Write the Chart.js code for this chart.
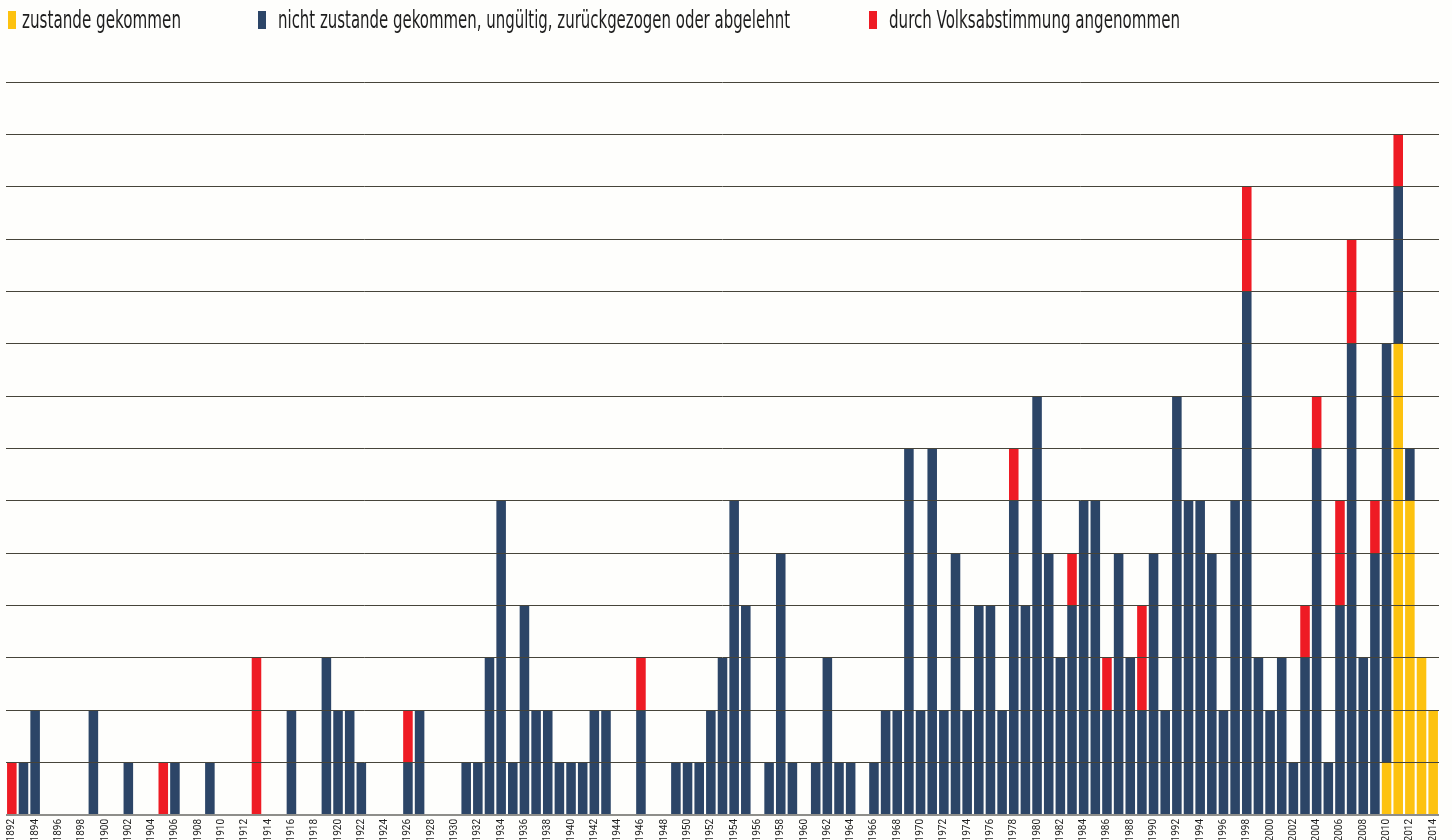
<!DOCTYPE html>
<html>
<head>
<meta charset="utf-8">
<script src="https://cdn.jsdelivr.net/npm/chart.js@4.4.1/dist/chart.umd.min.js"></script>
<style>
html,body{margin:0;padding:0;width:1452px;height:840px;overflow:hidden;background:#fefefc;}
#wrap{position:absolute;left:0;top:0;width:1452px;height:840px;}
.mk{position:absolute;top:11px;width:8px;height:18px;}
.tx{position:absolute;top:5px;font-family:"Liberation Sans Narrow","DejaVu Sans Condensed","Roboto Condensed",Roboto,sans-serif;font-size:24px;line-height:30px;color:#1e1e1e;white-space:nowrap;transform-origin:0 50%;}
</style>
</head>
<body>
<div id="wrap"><canvas id="c" width="1452" height="840"></canvas></div>
<div id="legend"></div>
<script>
// Categories (years)
const years = [1892,1893,1894,1895,1896,1897,1898,1899,1900,1901,
1902,1903,1904,1905,1906,1907,1908,1909,1910,1911,
1912,1913,1914,1915,1916,1917,1918,1919,1920,1921,
1922,1923,1924,1925,1926,1927,1928,1929,1930,1931,
1932,1933,1934,1935,1936,1937,1938,1939,1940,1941,
1942,1943,1944,1945,1946,1947,1948,1949,1950,1951,
1952,1953,1954,1955,1956,1957,1958,1959,1960,1961,
1962,1963,1964,1965,1966,1967,1968,1969,1970,1971,
1972,1973,1974,1975,1976,1977,1978,1979,1980,1981,
1982,1983,1984,1985,1986,1987,1988,1989,1990,1991,
1992,1993,1994,1995,1996,1997,1998,1999,2000,2001,
2002,2003,2004,2005,2006,2007,2008,2009,2010,2011,
2012,2013,2014];

// Tick labels (every second year)
const tickLabels = ["1892","1894","1896","1898","1900","1902","1904","1906","1908","1910",
"1912","1914","1916","1918","1920","1922","1924","1926","1928","1930",
"1932","1934","1936","1938","1940","1942","1944","1946","1948","1950",
"1952","1954","1956","1958","1960","1962","1964","1966","1968","1970",
"1972","1974","1976","1978","1980","1982","1984","1986","1988","1990",
"1992","1994","1996","1998","2000","2002","2004","2006","2008","2010",
"2012","2014"];

// zustande gekommen
const zustande = [0,0,0,0,0,0,0,0,0,0,
0,0,0,0,0,0,0,0,0,0,
0,0,0,0,0,0,0,0,0,0,
0,0,0,0,0,0,0,0,0,0,
0,0,0,0,0,0,0,0,0,0,
0,0,0,0,0,0,0,0,0,0,
0,0,0,0,0,0,0,0,0,0,
0,0,0,0,0,0,0,0,0,0,
0,0,0,0,0,0,0,0,0,0,
0,0,0,0,0,0,0,0,0,0,
0,0,0,0,0,0,0,0,0,0,
0,0,0,0,0,0,0,0,1,9,
6,3,2];

// nicht zustande gekommen, ungültig, zurückgezogen oder abgelehnt
const nichtZustande = [0,1,2,0,0,0,0,2,0,0,
1,0,0,0,1,0,0,1,0,0,
0,0,0,0,2,0,0,3,2,2,
1,0,0,0,1,2,0,0,0,1,
1,3,6,1,4,2,2,1,1,1,
2,2,0,0,2,0,0,1,1,1,
2,3,6,4,0,1,5,1,0,1,
3,1,1,0,1,2,2,7,2,7,
2,5,2,4,4,2,6,4,8,5,
3,4,6,6,2,5,3,2,5,2,
8,6,6,5,2,6,10,3,2,3,
1,3,7,1,4,9,3,5,8,3,
1,0,0];

// durch Volksabstimmung angenommen
const angenommen = [1,0,0,0,0,0,0,0,0,0,
0,0,0,1,0,0,0,0,0,0,
0,3,0,0,0,0,0,0,0,0,
0,0,0,0,1,0,0,0,0,0,
0,0,0,0,0,0,0,0,0,0,
0,0,0,0,1,0,0,0,0,0,
0,0,0,0,0,0,0,0,0,0,
0,0,0,0,0,0,0,0,0,0,
0,0,0,0,0,0,1,0,0,0,
0,1,0,0,1,0,0,2,0,0,
0,0,0,0,0,0,2,0,0,0,
0,1,1,0,2,2,0,1,0,1,
0,0,0];

const seriesNames = ["zustande gekommen","nicht zustande gekommen, ungültig, zurückgezogen oder abgelehnt","durch Volksabstimmung angenommen"];
const colors = ["#fdc20f","#2c4567","#ee1b24"];

// HTML legend
const legendPos = [{m:8,t:22,w:159},{m:258,t:278,w:512},{m:869,t:889,w:291}];
const lg = document.getElementById('legend');
seriesNames.forEach((n,i)=>{
  const m=document.createElement('div'); m.className='mk'; m.style.left=legendPos[i].m+'px'; m.style.background=colors[i]; lg.appendChild(m);
  const t=document.createElement('div'); t.className='tx'; t.style.left=legendPos[i].t+'px'; t.textContent=n; lg.appendChild(t);
  const w=t.getBoundingClientRect().width; if(w>0){ t.style.transform='scaleX('+(legendPos[i].w/w)+')'; }
});

const tickFont = {family:'Roboto, "Liberation Sans", sans-serif', size:10};

new Chart(document.getElementById('c'), {
  type:'bar',
  data:{
    labels: years.map(String),
    datasets:[
      {label:seriesNames[0], data:zustande, backgroundColor:colors[0], stack:'s'},
      {label:seriesNames[1], data:nichtZustande, backgroundColor:colors[1], stack:'s'},
      {label:seriesNames[2], data:angenommen, backgroundColor:colors[2], stack:'s'}
    ]
  },
  options:{
    responsive:false, animation:false, devicePixelRatio:1,
    layout:{padding:{top:82,left:6,right:13,bottom:0}},
    datasets:{bar:{categoryPercentage:1, barPercentage:0.82, borderWidth:0}},
    plugins:{legend:{display:false}, tooltip:{enabled:false}},
    scales:{
      x:{
        stacked:true,
        grid:{display:false, drawTicks:false},
        border:{display:false},
        ticks:{
          autoSkip:false, minRotation:90, maxRotation:90, padding:4,
          color:'#222', font:tickFont,
          callback:function(v,idx){ const s=String(years[idx]); return tickLabels.indexOf(s)>=0 ? s : ''; }
        },
        afterFit:function(s){ s.height = 25; }
      },
      y:{
        stacked:true, min:0, max:14,
        ticks:{display:false, stepSize:1},
        border:{display:false},
        grid:{
          z:1, drawTicks:false,
          color:function(c){ return c.tick && c.tick.value===0 ? '#8e8e8a' : '#46443a'; },
          lineWidth:function(c){ return c.tick && c.tick.value===0 ? 2 : 1; }
        },
        afterFit:function(s){ s.width = 0; }
      }
    }
  }
});
</script>
</body>
</html>
